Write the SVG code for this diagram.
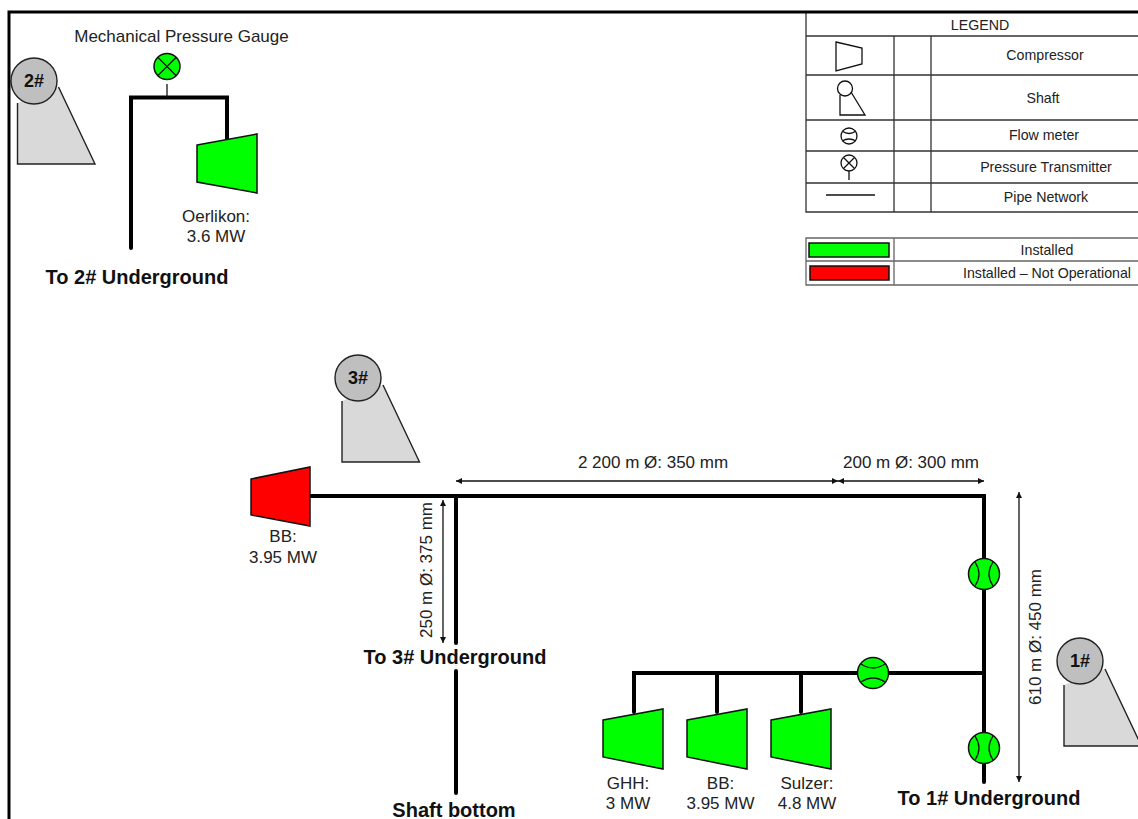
<svg xmlns="http://www.w3.org/2000/svg" width="1138" height="819" viewBox="0 0 1138 819">
<style>
text{font-family:"Liberation Sans",Arial,sans-serif;fill:#222;text-anchor:middle}
.l{font-size:17px}.s{font-size:14.2px}.b{font-size:20px;font-weight:bold;fill:#111}.h{font-size:18px;font-weight:bold;fill:#111}
.pipe{fill:none;stroke:#000;stroke-width:4;stroke-linecap:round}
.thin{fill:none;stroke:#111;stroke-width:1.3}
.grid{fill:none;stroke:#333;stroke-width:1.3}
.grid2{fill:none;stroke:#666;stroke-width:1.3}
.shaft{fill:#d9d9d9;stroke:#222;stroke-width:1.4}
.head{fill:#bfbfbf;stroke:#222;stroke-width:1.4}
.g{fill:#00ff00;stroke:#111;stroke-width:1.5}
.r{fill:#ff0000;stroke:#111;stroke-width:1.5}
</style>
<defs>
<marker id="a" viewBox="0 0 6 6" refX="6" refY="3" markerWidth="6" markerHeight="6" orient="auto-start-reverse" markerUnits="userSpaceOnUse"><path d="M0 0L6 3L0 6z" fill="#111"/></marker>
<g id="fm"><circle r="15.500" class="g"/><path class="thin" d="M-9-12Q-1 0-9 12M9-12Q1 0 9 12"/></g>
<g id="sh"><path class="shaft" d="M0 0V61H77.500L41-16"/></g>
</defs>
<g id="connectors">
<path class="pipe" d="M131 248V97.500H227V140"/>
<path class="pipe" d="M310 496H984V782"/>
<path class="pipe" d="M456 496V643M456 671V793"/>
<path class="pipe" d="M984 673H634V712M717 673V712M801 673V712"/>
<path class="thin" d="M167 84V97"/>
<path class="thin" marker-start="url(#a)" marker-end="url(#a)" d="M456 481H838"/>
<path class="thin" marker-start="url(#a)" marker-end="url(#a)" d="M838 481H984"/>
<path class="thin" marker-start="url(#a)" marker-end="url(#a)" d="M443 500V643"/>
<path class="thin" marker-start="url(#a)" marker-end="url(#a)" d="M1019 492V782"/>
</g>
<g id="shaft-2"><use href="#sh" x="17.500" y="103"/><circle class="head" cx="34" cy="81" r="23"/><text class="h" x="34" y="87">2#</text></g>
<g id="shaft-3"><use href="#sh" x="342" y="401"/><circle class="head" cx="358" cy="378" r="23"/><text class="h" x="358" y="384">3#</text></g>
<g id="shaft-1"><use href="#sh" x="1064" y="685"/><circle class="head" cx="1080" cy="661" r="23"/><text class="h" x="1080" y="667">1#</text></g>
<g id="gauge"><circle class="g" cx="167" cy="66.500" r="13"/><path class="thin" d="M158 57.500L176 75.500M176 57.500L158 75.500"/><text class="l" x="181.500" y="42">Mechanical Pressure Gauge</text></g>
<g id="oerlikon"><path class="g" d="M197 145L257 134V193L197 182z"/><text class="l" x="216" y="222">Oerlikon:</text><text class="l" x="216" y="242">3.6 MW</text></g>
<text class="b" x="137" y="284">To 2# Underground</text>
<g id="bb-red"><path class="r" d="M251 479L310 467V526L251 515z"/><text class="l" x="283" y="542">BB:</text><text class="l" x="283" y="563">3.95 MW</text></g>
<g id="ghh"><path class="g" d="M603 720L663 709V769L603 757z"/><text class="l" x="628" y="789">GHH:</text><text class="l" x="628" y="809">3 MW</text></g>
<g id="bb"><path class="g" d="M687 720L747 709V769L687 757z"/><text class="l" x="720.500" y="789">BB:</text><text class="l" x="720.500" y="809">3.95 MW</text></g>
<g id="sulzer"><path class="g" d="M771 720L831 709V769L771 757z"/><text class="l" x="807" y="789">Sulzer:</text><text class="l" x="807" y="809">4.8 MW</text></g>
<use id="fm-top" href="#fm" x="984" y="574"/>
<use id="fm-bottom" href="#fm" x="984" y="748"/>
<use id="fm-branch" href="#fm" transform="translate(873 673) rotate(90)"/>
<text class="l" x="653" y="468">2 200 m Ø: 350 mm</text>
<text class="l" x="911" y="468">200 m Ø: 300 mm</text>
<text class="l" transform="translate(432 570) rotate(-90)">250 m Ø: 375 mm</text>
<text class="l" transform="translate(1041 637) rotate(-90)">610 m Ø: 450 mm</text>
<text class="b" x="455" y="664">To 3# Underground</text>
<text class="b" x="454" y="817">Shaft bottom</text>
<text class="b" x="989" y="805">To 1# Underground</text>
<g id="legend">
<path class="grid" d="M806 13V212H1138M806 36H1138M806 75H1138M806 120H1138M806 151H1138M806 183H1138M894 36V212M931 36V212"/>
<text class="s" x="980" y="30">LEGEND</text>
<text class="s" x="1045" y="60">Compressor</text>
<text class="s" x="1043" y="103">Shaft</text>
<text class="s" x="1044" y="140">Flow meter</text>
<text class="s" x="1046" y="172">Pressure Transmitter</text>
<text class="s" x="1046" y="202">Pipe Network</text>
<path class="thin" d="M836 42L862 48V64L836 71z"/>
<path class="thin" d="M840 95V115H865L851 92"/><circle cx="845" cy="88.500" r="7.500" fill="#fff" stroke="#111" stroke-width="1.300"/>
<circle class="thin" cx="849" cy="136" r="8"/><path class="thin" d="M842 131Q849 136 856 131M842 141Q849 137 856 141"/>
<circle class="thin" cx="849" cy="163" r="8"/><path class="thin" d="M843.500 157.500L854.500 168.500M854.500 157.500L843.500 168.500M849 171V180"/>
<path d="M826 195H875" fill="none" stroke="#111" stroke-width="1.600"/>
</g>
<g id="status-legend">
<path class="grid2" d="M1138 238H806V285H1138M806 261H1138M894 238V285"/>
<rect class="g" x="809" y="243" width="80" height="14"/>
<rect class="r" x="810" y="266" width="79" height="14"/>
<text class="s" x="1047" y="255">Installed</text>
<text class="s" x="1047" y="278">Installed – Not Operational</text>
</g>
<rect x="9" y="12" width="1140" height="820" fill="none" stroke="#000" stroke-width="3"/>
</svg>
